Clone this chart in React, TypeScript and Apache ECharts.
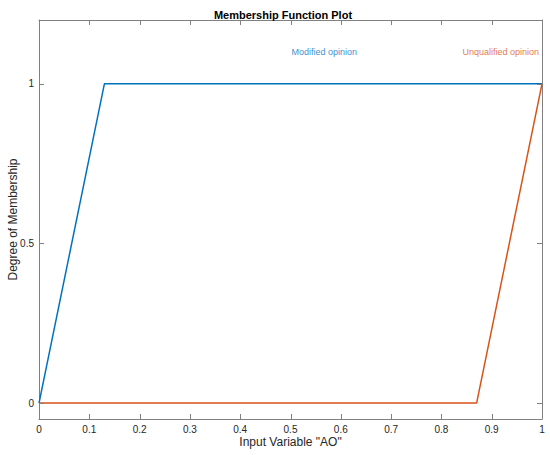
import React, { useEffect, useRef } from "react";
import * as echarts from "echarts";

const xTicks = [0, 0.1, 0.2, 0.3, 0.4, 0.5, 0.6, 0.7, 0.8, 0.9, 1];
const yTicks = [0, 0.5, 1];
const xRange = [0, 1];
const yRange = [-0.05, 1.2];
const modifiedX = [0, 0.13, 1];
const modifiedY = [0, 1, 1];
const unqualifiedX = [0, 0.87, 1];
const unqualifiedY = [0, 0, 1];
const mfNames = ["Modified opinion", "Unqualified opinion"];
const mfLabelX = [0.567, 0.918];
const mfLabelY = [1.1, 1.1];

const BLUE = "#0072BD";
const ORANGE = "#D95319";
const AXIS = "#808080";
const TXT = "#262626";
const FONT = "Arial, 'Liberation Sans', sans-serif";
const TICK = 5;

export default function App() {
  const ref = useRef<HTMLDivElement>(null);
  useEffect(() => {
    if (!ref.current) return;
    const chart = echarts.init(ref.current, null, { renderer: "svg" });
    const axisLine = { show: true, onZero: false, lineStyle: { color: AXIS, width: 1 } };
    const fmt = (v: number) => String(Math.round(v * 100) / 100);
    chart.setOption({
      animation: false,
      backgroundColor: "#ffffff",
      title: {
        text: "Membership Function Plot",
        left: 278,
        top: 4,
        textAlign: "center",
        textStyle: { fontFamily: FONT, fontSize: 11, fontWeight: "bold", color: "#000" },
      },
      grid: { left: 39, right: 8, top: 20, bottom: 36, containLabel: false, outerBoundsMode: "none" },
      xAxis: [
        {
          type: "value",
          min: xRange[0],
          max: xRange[1],
          interval: 0.1,
          position: "bottom",
          name: 'Input Variable "AO"',
          nameLocation: "middle",
          nameGap: 17,
          nameMoveOverlap: false,
          nameTextStyle: { fontFamily: FONT, fontSize: 12, color: TXT },
          axisLine,
          axisTick: { show: false },
          axisLabel: { fontFamily: FONT, fontSize: 10, color: TXT, margin: 5, formatter: fmt },
          splitLine: { show: false },
        },
        {
          type: "value",
          min: xRange[0],
          max: xRange[1],
          position: "top",
          axisLine,
          axisTick: { show: false },
          axisLabel: { show: false },
          splitLine: { show: false },
        },
      ],
      yAxis: [
        {
          type: "value",
          min: yRange[0],
          max: yRange[1],
          position: "left",
          name: "Degree of Membership",
          nameLocation: "middle",
          nameRotate: 90,
          nameGap: 20,
          nameMoveOverlap: false,
          nameTextStyle: { fontFamily: FONT, fontSize: 12, color: TXT },
          axisLine,
          axisTick: { show: false },
          axisLabel: { fontFamily: FONT, fontSize: 10, color: TXT, margin: 5, customValues: yTicks, formatter: fmt },
          splitLine: { show: false },
        },
        {
          type: "value",
          min: yRange[0],
          max: yRange[1],
          position: "right",
          axisLine,
          axisTick: { show: false },
          axisLabel: { show: false },
          splitLine: { show: false },
        },
      ],
      series: [
        {
          type: "line",
          name: mfNames[0],
          data: modifiedX.map((x, i) => [x, modifiedY[i]]),
          showSymbol: false,
          symbol: "none",
          lineStyle: { color: BLUE, width: 1.5 },
          z: 3,
        },
        {
          type: "line",
          name: mfNames[1],
          data: unqualifiedX.map((x, i) => [x, unqualifiedY[i]]),
          showSymbol: false,
          symbol: "none",
          lineStyle: { color: ORANGE, width: 1.5 },
          z: 2,
        },
        {
          type: "scatter",
          symbolSize: 0,
          silent: true,
          data: mfNames.map((n, i) => ({
            value: [mfLabelX[i], mfLabelY[i]],
            name: n,
            label: {
              show: true,
              position: "inside",
              formatter: n,
              color: i === 0 ? BLUE : ORANGE,
              fontFamily: FONT,
              fontSize: 9,
            },
          })),
        },
      ],
    });

    try {
      const px = (p: number[]) => chart.convertToPixel({ gridIndex: 0 }, p) as number[];
      const crisp = (v: number) => Math.round(v) + 0.5;
      const style = { stroke: AXIS, lineWidth: 1 };
      const els: any[] = [];
      xTicks.forEach((v) => {
        const b = px([v, yRange[0]]);
        const t = px([v, yRange[1]]);
        const x = crisp(b[0]);
        els.push({ type: "line", silent: true, z: 10, shape: { x1: x, y1: b[1], x2: x, y2: b[1] - TICK }, style });
        els.push({ type: "line", silent: true, z: 10, shape: { x1: x, y1: t[1], x2: x, y2: t[1] + TICK }, style });
      });
      yTicks.forEach((v) => {
        const l = px([xRange[0], v]);
        const r = px([xRange[1], v]);
        const y = crisp(l[1]);
        els.push({ type: "line", silent: true, z: 10, shape: { x1: l[0], y1: y, x2: l[0] + TICK, y2: y }, style });
        els.push({ type: "line", silent: true, z: 10, shape: { x1: r[0], y1: y, x2: r[0] - TICK, y2: y }, style });
      });
      chart.setOption({ graphic: els });
    } catch (e) {
      // ignore
    }
    return () => chart.dispose();
  }, []);
  return (
    <div
      ref={ref}
      style={{ position: "fixed", left: 0, top: 0, width: 550, height: 455, background: "#fff" }}
    />
  );
}
